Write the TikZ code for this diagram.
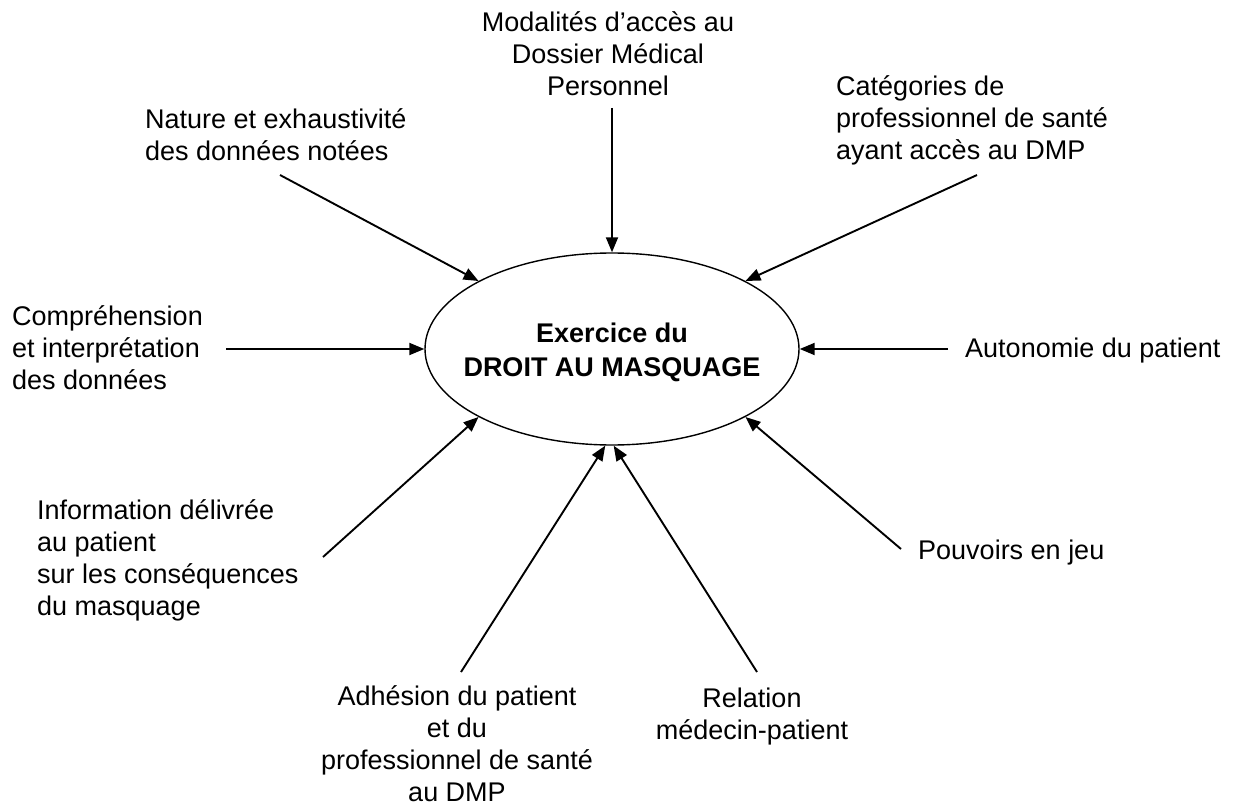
\documentclass[tikz,border=0pt]{standalone}
\usepackage{fontspec}
\setmainfont{Liberation Sans}
\usetikzlibrary{arrows.meta,shapes.geometric}

\begin{document}
\begin{tikzpicture}[x=1pt, y=-1pt,
    font=\fontsize{27}{32}\selectfont,
    >={Triangle[length=15pt,width=12pt]},
    every node/.style={inner sep=0pt},
    factor/.style={align=left, anchor=base west},
    link/.style={->, line width=1.9pt}]

    \useasboundingbox (0,0) rectangle (1238,810);

    % Central ellipse (node anchors at base of the last line)
    \node[ellipse, draw, line width=1.4pt, minimum width=374pt, minimum height=192pt] (droit) at (612,349) {};
    \node[align=center, anchor=base, font=\fontsize{27}{34}\selectfont\bfseries] (droittext) at (612,376) {Exercice du\\DROIT AU MASQUAGE};

    % Factors around the ellipse
    \node[align=center, anchor=base] (modalites) at (608,96) {Modalités d’accès au\\Dossier Médical\\Personnel};
    \node[factor] (categories) at (836,160) {Catégories de\\professionnel de santé\\ayant accès au DMP};
    \node[factor] (nature) at (145,161) {Nature et exhaustivité\\des données notées};
    \node[factor] (comprehension) at (12,389) {Compréhension\\et interprétation\\des données};
    \node[factor] (autonomie) at (965,357) {Autonomie du patient};
    \node[factor] (information) at (37,615) {Information délivrée\\au patient\\sur les conséquences\\du masquage};
    \node[factor] (pouvoirs) at (918,559) {Pouvoirs en jeu};
    \node[align=center, anchor=base] (adhesion) at (457,801) {Adhésion du patient\\et du\\professionnel de santé\\au DMP};
    \node[align=center, anchor=base] (relation) at (752,739) {Relation\\médecin-patient};

    % Arrow tails
    \coordinate (modalites-tail) at (612,108);
    \coordinate (categories-tail) at (977,175);
    \coordinate (nature-tail) at (280,175);
    \coordinate (comprehension-tail) at (226,349);
    \coordinate (autonomie-tail) at (948,349);
    \coordinate (information-tail) at (323,557);
    \coordinate (pouvoirs-tail) at (901,549);
    \coordinate (adhesion-tail) at (461,672);
    \coordinate (relation-tail) at (757,672);

    % Arrows into the ellipse
    \draw[link] (modalites-tail) -- (droit.90);
    \draw[link] (categories-tail) -- (droit.27);
    \draw[link] (nature-tail) -- (droit.153);
    \draw[link] (comprehension-tail) -- (droit.180);
    \draw[link] (autonomie-tail) -- (droit.0);
    \draw[link] (information-tail) -- (droit.207);
    \draw[link] (pouvoirs-tail) -- (droit.-27);
    \draw[link] (adhesion-tail) -- (droit.266);
    \draw[link] (relation-tail) -- (droit.271);

\end{tikzpicture}
\end{document}
